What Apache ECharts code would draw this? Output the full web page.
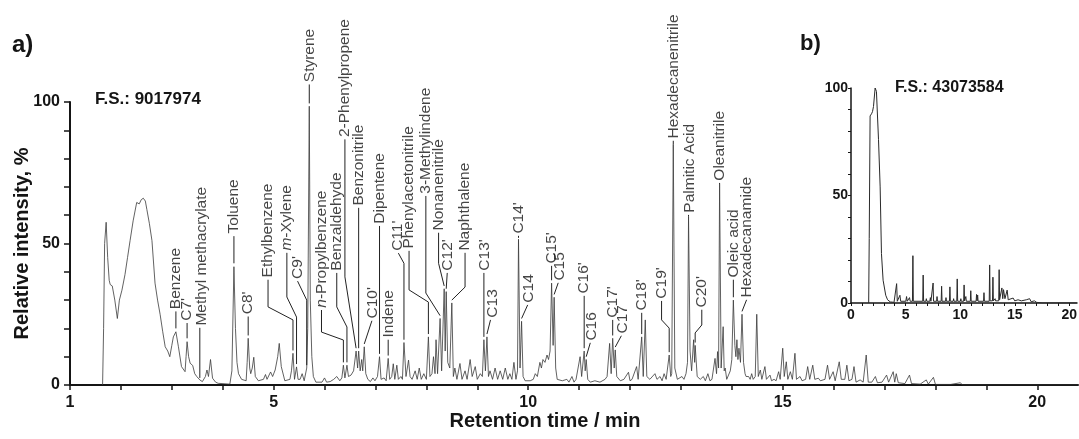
<!DOCTYPE html>
<html><head><meta charset="utf-8">
<script src="https://cdn.jsdelivr.net/npm/echarts@6/dist/echarts.min.js"></script>
<style>html,body{margin:0;padding:0;background:#fff}#c{width:1079px;height:439px}</style>
</head><body><div id="c"></div>
<script>
// Main chromatogram (a): [retention time min, relative intensity %]
const mainTrace = [
[1.64,0],[1.66,20],[1.68,50],[1.71,57.5],[1.74,45],[1.77,37],[1.79,35.5],[1.83,35],[1.88,30],[1.93,23.5],[1.97,30],[2.02,33.5],[2.08,39],[2.13,45],[2.18,51],[2.24,58],[2.31,64.5],[2.36,64],[2.40,65.5],[2.44,66],[2.48,65],[2.51,62],[2.56,57],[2.61,51],[2.67,36],[2.72,30],[2.77,25],[2.82,19],[2.87,13.5],[2.92,12],[2.96,10],[3.00,14],[3.03,17],[3.08,18.8],[3.13,13.5],[3.19,6.5],[3.26,4.7],[3.28,10],[3.30,15.3],[3.33,10],[3.36,7.7],[3.41,6.9],[3.45,4],[3.49,3],[3.55,1.8],[3.60,1.2],[3.66,3],[3.69,5.3],[3.72,3],[3.76,9],[3.80,2.4],[3.86,1],[3.91,0.6],[4.14,0.3],[4.18,5],[4.22,41.8],[4.25,20],[4.28,8],[4.31,4],[4.37,2],[4.46,1.5],[4.48,8],[4.50,16.5],[4.53,6],[4.55,4],[4.58,6],[4.61,9.8],[4.64,3],[4.70,1.5],[4.80,2],[4.84,3.7],[4.87,2],[4.90,2.5],[4.94,4.6],[4.98,3],[5.03,5.3],[5.08,10],[5.11,14.7],[5.15,6.5],[5.22,1.5],[5.32,2],[5.35,5],[5.38,11.2],[5.41,2],[5.45,6.4],[5.48,2],[5.52,2],[5.56,4],[5.60,1.5],[5.65,6],[5.67,20],[5.70,98.5],[5.72,30],[5.75,10],[5.78,3],[5.83,1],[5.95,1],[6.00,2.5],[6.04,1],[6.11,1.2],[6.18,2],[6.24,3],[6.30,1.5],[6.34,2.5],[6.37,7],[6.40,2.5],[6.44,7],[6.47,3],[6.52,3.5],[6.57,5],[6.62,12],[6.65,6],[6.67,12],[6.70,5],[6.73,9],[6.75,5],[6.78,13.5],[6.81,4],[6.85,2],[6.90,1.2],[6.95,2.5],[6.99,1.5],[7.04,3],[7.08,10],[7.11,2],[7.17,2.5],[7.21,1.5],[7.25,9.4],[7.28,2],[7.32,3],[7.35,7.5],[7.38,2],[7.42,7],[7.45,2],[7.50,3],[7.53,2],[7.56,15],[7.60,3],[7.65,8.8],[7.68,3],[7.72,2],[7.78,5],[7.82,2],[7.86,6],[7.90,2],[7.95,4],[8.00,2],[8.04,17],[8.07,3],[8.11,4],[8.14,10],[8.17,4],[8.19,16],[8.22,4],[8.27,23.5],[8.30,5],[8.35,34],[8.37,12],[8.39,33],[8.42,8],[8.46,6],[8.50,29],[8.53,3],[8.56,6],[8.60,2],[8.66,7.6],[8.70,2],[8.76,5],[8.80,2],[8.86,9],[8.90,3],[8.96,6.5],[9.00,2],[9.06,4],[9.10,3],[9.13,16],[9.16,5],[9.19,17],[9.22,3],[9.25,5],[9.30,2],[9.35,6],[9.40,2],[9.45,5],[9.50,2],[9.55,6],[9.60,2],[9.64,4],[9.68,2],[9.72,8],[9.76,2],[9.79,5],[9.81,51.5],[9.84,6],[9.87,22.5],[9.90,3],[9.94,1.5],[10.04,1.5],[10.10,2],[10.14,4],[10.18,3],[10.23,8],[10.26,6],[10.29,9],[10.33,8],[10.37,10.6],[10.40,9],[10.43,12],[10.46,36],[10.49,14],[10.51,31],[10.54,6],[10.57,2],[10.67,1.5],[10.76,2],[10.80,1],[10.86,3],[10.90,1],[10.94,2],[11.02,10],[11.05,3],[11.10,12],[11.12,5],[11.14,9],[11.17,2],[11.22,1],[11.31,1.5],[11.41,1],[11.51,2],[11.55,3],[11.60,14.7],[11.63,4],[11.66,16.5],[11.69,6],[11.71,12.4],[11.74,3],[11.81,1.5],[11.88,2],[11.97,4.5],[12.00,1.5],[12.04,2],[12.13,6.5],[12.16,2],[12.23,17],[12.26,3],[12.30,23],[12.33,3],[12.39,2],[12.49,4],[12.53,2],[12.59,3],[12.63,1.5],[12.67,4],[12.71,2],[12.77,10.6],[12.80,3],[12.82,4],[12.85,85],[12.88,6],[12.93,2],[13.02,3],[13.06,2],[13.10,4],[13.13,8],[13.15,59.5],[13.18,12],[13.21,5],[13.25,16],[13.27,8],[13.28,14],[13.32,3],[13.38,2],[13.44,3],[13.48,1.5],[13.53,4],[13.57,1.5],[13.61,2],[13.67,9.4],[13.70,4],[13.72,11.8],[13.74,6],[13.76,71],[13.79,6],[13.83,20.6],[13.85,5],[13.87,6],[13.90,2],[13.93,2],[13.97,5],[14.00,9],[14.03,30],[14.06,14],[14.08,10],[14.10,16],[14.12,9],[14.14,13],[14.17,8],[14.20,25],[14.23,8],[14.26,4],[14.28,3],[14.33,3],[14.36,2],[14.39,4],[14.42,2],[14.46,3],[14.49,25],[14.52,3],[14.56,5.3],[14.59,2],[14.65,6.5],[14.68,2],[14.75,3.5],[14.78,1.5],[14.83,2],[14.87,1.5],[14.92,4.7],[14.95,2],[15.00,13],[15.03,3],[15.07,8.2],[15.10,2],[15.15,4.7],[15.19,2],[15.24,11.2],[15.27,2],[15.34,3],[15.38,1.5],[15.45,2],[15.49,6.5],[15.53,2],[15.59,7],[15.63,2],[15.70,2.4],[15.74,1.5],[15.83,2],[15.88,7],[15.92,2],[15.99,4.7],[16.03,1.5],[16.11,8.2],[16.15,2],[16.22,2],[16.26,7],[16.30,1.5],[16.36,2],[16.40,6.5],[16.44,1],[16.52,1.8],[16.58,1],[16.64,10.6],[16.68,1],[16.75,1],[16.82,3],[16.86,0.8],[16.95,1],[17.04,3.5],[17.08,1],[17.17,4.7],[17.20,1],[17.23,4],[17.27,0.8],[17.40,0.5],[17.49,3.5],[17.53,0.5],[17.70,0.3],[17.82,1.8],[17.86,0.3],[17.96,2.7],[18.00,0.2],[18.30,0.2],[18.49,0.8],[18.53,0],[20.8,0]
];

// Inset chromatogram (b)
const insetTrace = [
[1.62,0],[1.67,30],[1.75,87],[1.88,88],[1.97,89],[2.06,91.4],[2.21,100],[2.33,98.4],[2.52,76],[2.67,54],[2.79,23],[2.94,10.6],[3.18,3.6],[3.35,1.5],[3.49,2],[3.60,0.5],[3.94,0.3],[4.12,0.5],[4.18,9],[4.24,0.8],[4.42,0.8],[4.48,3.6],[4.55,0.8],[5.02,0.8],[5.09,3],[5.15,0.8],[5.30,0.8],[5.36,2.5],[5.42,0.8],[5.63,0.8],[5.67,22],[5.71,0.8],[6.57,0.8],[6.61,13],[6.65,0.8],[6.86,0.8],[6.90,2],[6.94,0.8],[7.22,0.8],[7.27,2.5],[7.32,0.8],[7.48,0.8],[7.52,9.3],[7.56,0.8],[7.84,0.8],[7.88,3],[7.92,0.8],[8.26,0.8],[8.30,7.8],[8.34,0.8],[8.66,0.8],[8.70,2.5],[8.74,0.8],[9.02,0.8],[9.06,7.5],[9.10,0.8],[9.36,0.8],[9.40,2],[9.44,0.8],[9.69,0.8],[9.73,11.2],[9.77,0.8],[10.02,0.8],[10.06,2],[10.10,0.8],[10.32,0.8],[10.36,8.4],[10.40,1],[10.52,3],[10.56,0.8],[10.93,0.8],[10.97,5.7],[11.01,0.8],[11.46,0.8],[11.50,4],[11.55,1],[11.60,3.7],[11.64,0.8],[12.14,0.8],[12.18,4.8],[12.22,0.8],[12.66,0.8],[12.70,17.7],[12.74,1],[12.96,1],[13.00,12],[13.04,1],[13.20,2],[13.24,1],[13.53,1],[13.57,15.5],[13.61,1.5],[13.82,7],[13.90,2],[13.97,6.2],[14.10,2],[14.30,6],[14.40,1.5],[14.85,2.3],[15.00,1],[15.30,1.5],[15.60,1],[16.06,1.5],[16.20,1],[16.36,2],[16.50,0.6],[16.80,1],[17.00,0.3],[17.50,0],[20.7,0]
];

// Peak annotations: names, text start (time, %) and leader polylines (time, %)
const peakNames = ["Benzene","C7'","Methyl methacrylate","Toluene","C8'","Ethylbenzene","m-Xylene","C9'","Styrene","n-Propylbenzene","Benzaldehyde","2-Phenylpropene","Benzonitrile","C10'","Dipentene","Indene","C11'","Phenylacetonitrile","3-Methylindene","Nonanenitrile","C12'","Naphthalene","C13'","C13","C14'","C14","C15'","C15","C16'","C16","C17'","C17","C18'","C19'","Hexadecanenitrile","Palmitic Acid","C20'","Oleanitrile","Oleic acid","Hexadecanamide"];
const labelAnchors = [[3.08,26.8],[3.30,22.7],[3.58,21.0],[4.21,53.5],[4.50,25.0],[4.89,38.0],[5.26,47.5],[5.47,37.5],[5.70,107],[5.94,27.3],[6.24,40.4],[6.40,87.6],[6.68,63.4],[6.95,23.5],[7.08,57.0],[7.27,16.8],[7.44,47.4],[7.65,48.2],[7.98,67.6],[8.24,54.6],[8.42,40.4],[8.76,47.5],[9.15,40.4],[9.30,23.8],[9.82,53.5],[10.01,29.1],[10.46,42.9],[10.61,36.9],[11.10,32.3],[11.24,15.7],[11.66,23.8],[11.85,18.2],[12.23,26.3],[12.62,30.5],[12.86,87.1],[13.17,60.9],[13.41,27.4],[13.77,72.2],[14.04,38.0],[14.30,30.9]];
const leaderPaths = [
[[3.08,26.0],[3.08,20.0]],
[[3.30,21.9],[3.30,16.5]],
[[3.55,20.2],[3.55,2.5]],
[[4.22,52.6],[4.22,43.0]],
[[4.50,24.2],[4.50,17.5]],
[[4.89,37.2],[4.89,27.6],[5.38,23],[5.38,12.2]],
[[5.26,46.7],[5.26,31.1],[5.45,24],[5.45,7.4]],
[[5.47,36.7],[5.65,30],[5.65,7]],
[[5.70,106.2],[5.70,99.5]],
[[5.94,26.5],[5.94,18.7],[6.37,15.9],[6.37,8]],
[[6.24,39.6],[6.24,27.6],[6.44,20.5],[6.44,8]],
[[6.40,86.8],[6.40,38.2],[6.62,13]],
[[6.67,62.6],[6.67,13]],
[[6.93,22.7],[6.78,14.5]],
[[7.08,56.2],[7.08,11]],
[[7.25,16],[7.25,10.4]],
[[7.45,46.6],[7.56,43],[7.56,16]],
[[7.66,47.4],[7.66,33.6],[8.04,29.3],[8.04,18]],
[[7.99,66.8],[7.99,32.5],[8.27,24.5]],
[[8.24,53.8],[8.24,43],[8.35,35]],
[[8.41,39.6],[8.39,34]],
[[8.76,46.7],[8.76,34.6],[8.50,30]],
[[9.13,39.6],[9.13,17]],
[[9.26,23],[9.19,18]],
[[9.81,52.7],[9.81,52]],
[[9.99,28.3],[9.87,23.5]],
[[10.46,42.1],[10.46,37]],
[[10.59,36.1],[10.51,32]],
[[11.10,31.5],[11.10,13]],
[[11.22,14.9],[11.14,10]],
[[11.66,23],[11.66,17.5]],
[[11.83,17.4],[11.71,13.4]],
[[12.23,25.5],[12.23,18]],
[[12.62,29.7],[12.62,23],[12.77,20.1],[12.77,11.6]],
[[12.85,86.3],[12.85,85]],
[[13.15,60.1],[13.15,59.5]],
[[13.41,26.6],[13.41,21.2],[13.28,18.4],[13.28,15]],
[[13.76,71.4],[13.76,71]],
[[14.03,37.2],[14.03,31]],
[[14.29,30.1],[14.20,26]]
];
const mainXLabels = [1,5,10,15,20];
const mainYLabels = [0,50,100];
const insetXLabels = [0,5,10,15,20];
const insetYLabels = [0,50,100];

const FONT = 'Liberation Sans, Arial, sans-serif';
const INK = '#151515';
const chart = echarts.init(document.getElementById('c'), null, {renderer:'canvas'});

function labelText(name){
  const m = name.match(/^([mnop])-(.*)$/);
  return m ? '{i|' + m[1] + '}{r|-' + m[2] + '}' : '{r|' + name + '}';
}
const axisCommon = () => ({
  axisLine:{show:true,lineStyle:{color:INK,width:2}},
  axisTick:{show:true,inside:false,lineStyle:{color:INK,width:1.5}},
  splitLine:{show:false},
});

chart.setOption({
  animation:false,
  grid:[
    {left:70,right:1,top:102,bottom:54,containLabel:false,outerBoundsMode:'none'},
    {left:851,right:2,top:88,bottom:136,containLabel:false,outerBoundsMode:'none'}
  ],
  xAxis:[
    Object.assign(axisCommon(), {
      type:'value',gridIndex:0,min:1,max:20.8,interval:1,
      axisTick:{show:true,length:5,interval:0,lineStyle:{color:INK,width:1.5}},
      axisLabel:{margin:10,fontFamily:FONT,fontWeight:'bold',fontSize:16,color:INK,
        formatter:v=>mainXLabels.includes(v)?String(v):'', showMaxLabel:false},
      name:'Retention time / min',nameLocation:'middle',nameGap:26,nameMoveOverlap:false,
      nameTextStyle:{fontFamily:FONT,fontWeight:'bold',fontSize:20,color:INK,padding:[0,58,0,0]}
    }),
    Object.assign(axisCommon(), {
      type:'value',gridIndex:1,min:0,max:20.7,interval:1,
      axisLine:{show:true,lineStyle:{color:INK,width:1.5}},
      axisTick:{show:true,length:3,lineStyle:{color:INK,width:1}},
      axisLabel:{margin:5,fontFamily:FONT,fontWeight:'bold',fontSize:14,color:INK,
        formatter:v=>insetXLabels.includes(v)?String(v):'', showMaxLabel:false}
    })
  ],
  yAxis:[
    Object.assign(axisCommon(), {
      type:'value',gridIndex:0,min:0,max:100,interval:10,
      axisTick:{show:true,length:6,lineStyle:{color:INK,width:1.5}},
      axisLabel:{margin:10,fontFamily:FONT,fontWeight:'bold',fontSize:16,color:INK,
        formatter:v=>mainYLabels.includes(v)?String(v):''},
      name:'Relative intensity, %',nameLocation:'middle',nameGap:38,nameMoveOverlap:false,
      nameTextStyle:{fontFamily:FONT,fontWeight:'bold',fontSize:20,color:INK}
    }),
    Object.assign(axisCommon(), {
      type:'value',gridIndex:1,min:0,max:100,interval:10,
      axisLine:{show:true,lineStyle:{color:INK,width:1.5}},
      axisTick:{show:true,length:3,lineStyle:{color:INK,width:1}},
      axisLabel:{margin:3,fontFamily:FONT,fontWeight:'bold',fontSize:14,color:INK,
        formatter:v=>insetYLabels.includes(v)?String(v):''}
    })
  ],
  series:[
    {type:'line',xAxisIndex:0,yAxisIndex:0,data:mainTrace,showSymbol:false,
      lineStyle:{color:'#3a3a3a',width:0.8},z:2},
    {type:'lines',coordinateSystem:'cartesian2d',xAxisIndex:0,yAxisIndex:0,polyline:true,clip:false,
      data:leaderPaths.map(c=>({coords:c})),
      lineStyle:{color:'#222',width:1,opacity:1},z:3},
    {type:'scatter',xAxisIndex:0,yAxisIndex:0,clip:false,symbolSize:1,
      itemStyle:{color:'rgba(0,0,0,0)'},
      data:labelAnchors.map((p,i)=>({value:p,name:peakNames[i]})),
      label:{show:true,position:'inside',rotate:90,align:'left',verticalAlign:'middle',distance:0,
        formatter:p=>labelText(p.name),
        rich:{
          r:{fontFamily:FONT,fontSize:15.5,color:INK},
          i:{fontFamily:FONT,fontSize:15.5,color:INK,fontStyle:'italic'}
        }},
      z:4},
    {type:'line',xAxisIndex:1,yAxisIndex:1,data:insetTrace,showSymbol:false,
      lineStyle:{color:'#2a2a2a',width:1},z:2}
  ],
  graphic:[
    {type:'text',left:12,top:33,style:{text:'a)',font:'bold 24px '+FONT,fill:INK}},
    {type:'text',left:800,top:33,style:{text:'b)',font:'bold 22px '+FONT,fill:INK}},
    {type:'text',left:95,top:91,style:{text:'F.S.: 9017974',font:'bold 17px '+FONT,fill:INK}},
    {type:'text',left:895,top:80,style:{text:'F.S.: 43073584',font:'bold 16px '+FONT,fill:INK}}
  ]
});
</script>
</body></html>
